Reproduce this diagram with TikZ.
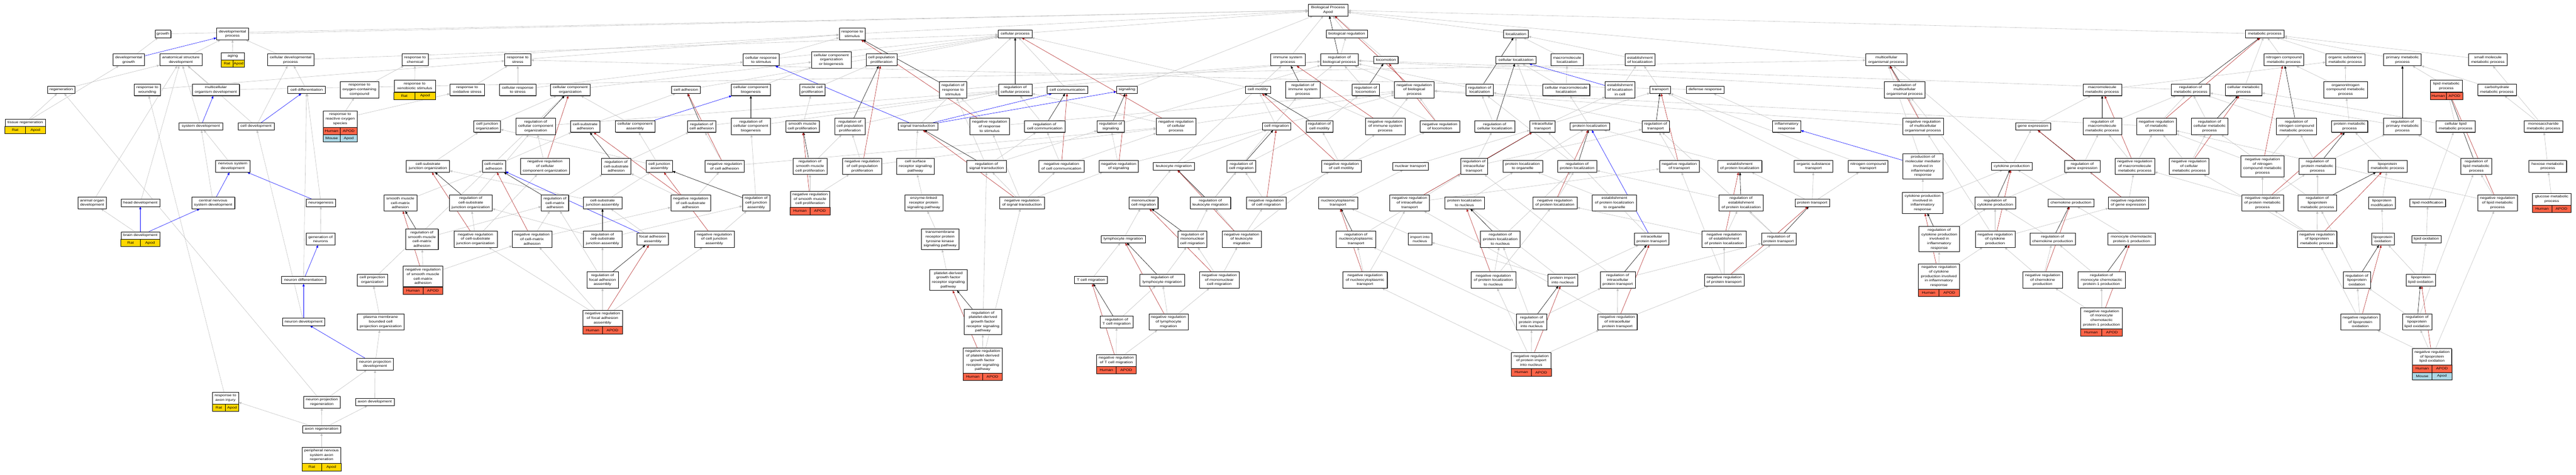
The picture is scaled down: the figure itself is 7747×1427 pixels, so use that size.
\documentclass[tikz,border=0pt]{standalone}
\usepackage{fontspec}
\setmainfont{Liberation Sans}[FakeStretch=1.25]
\usepackage{tikz}
\usetikzlibrary{calc}
\usetikzlibrary{arrows.meta}
\usetikzlibrary{shadows}
\usetikzlibrary{backgrounds}
\definecolor{ratcol}{HTML}{FFD700}
\definecolor{humancol}{HTML}{FF6347}
\definecolor{mousecol}{HTML}{ADD8E6}
\definecolor{isagray}{HTML}{C0C0C0}
\definecolor{negred}{HTML}{B22222}
\newcommand{\termfont}{\fontsize{10}{13.5}\selectfont}
\tikzset{
  term/.style={draw=black, fill=white, line width=0.8pt, inner xsep=3pt, inner ysep=0pt, align=center, font=\termfont,
    drop shadow={shadow xshift=1.3pt, shadow yshift=-1.3pt, fill=black!60, opacity=1}},
  spcell/.style={draw=black, line width=0.8pt},
  isa/.style={draw=isagray, line width=0.9pt, -{Triangle[length=8pt,width=6.5pt]}},
  partof/.style={draw=blue, line width=0.9pt, -{Triangle[length=8pt,width=6.5pt]}},
  regulates/.style={draw=black, line width=0.9pt, -{Triangle[length=8pt,width=6.5pt]}},
  negregulates/.style={draw=negred, line width=0.9pt, -{Triangle[length=8pt,width=6.5pt]}}
}
\newcommand{\goterm}[6]{\node[term, minimum width=#4, minimum height={8.5+13.5*#5}] (#1) at (#2,#3) {#6};}
\newcommand{\sprow}[5]{%
  \draw[spcell, fill=#3] ($(#1.south west)+(0,{22*#2})$) rectangle ($(#1.south)+(0,{22*#2+22})$);
  \draw[spcell, fill=#3] ($(#1.south)+(0,{22*#2})$) rectangle ($(#1.south east)+(0,{22*#2+22})$);
  \node[font=\termfont] at ($(#1.south west)!.5!(#1.south)+(0,{22*#2+11})$) {#4};
  \node[font=\termfont] at ($(#1.south)!.5!(#1.south east)+(0,{22*#2+11})$) {#5};}

\begin{document}
\begin{tikzpicture}[x=1pt, y=-1pt]
  \useasboundingbox (0,0) rectangle (7747,1427);
  %root and first rank
  \goterm{root}{3994}{30}{119}{2}{Biological Process\\Apod}
  \goterm{growth}{490}{102}{48}{1}{growth}
  \goterm{devproc}{699}{102}{95}{2}{developmental\\process}
  \goterm{respstim}{2563}{102}{78}{2}{response to\\stimulus}
  \goterm{cellproc}{3053}{102}{102}{1}{cellular process}
  \goterm{bioreg}{4050}{102}{124}{1}{biological regulation}
  \goterm{localization}{4559}{102}{74}{1}{localization}
  \goterm{metproc}{6811}{102}{116}{1}{metabolic process}
  %rank 180
  \goterm{devgrowth}{387}{180}{94}{2}{developmental\\growth}
  \goterm{anatdev}{544}{180}{128}{2}{anatomical structure\\development}
  \goterm{aging}{700}{169}{69}{1}{aging}
  \sprow{aging}{0}{ratcol}{Rat}{Apod}
  \goterm{celldevproc}{874}{180}{139}{2}{cellular developmental\\process}
  \goterm{respchem}{1248}{180}{79}{2}{response to\\chemical}
  \goterm{respstress}{1557}{180}{79}{2}{response to\\stress}
  \goterm{cellrespstim}{2289}{180}{108}{2}{cellular response\\to stimulus}
  \goterm{ccob}{2500}{180}{119}{3}{cellular component\\organization\\or biogenesis}
  \goterm{cellpopprolif}{2651}{180}{93}{2}{cell population\\proliferation}
  \goterm{immsys}{3873}{180}{103}{2}{immune system\\process}
  \goterm{regbp}{4028}{180}{114}{2}{regulation of\\biological process}
  \goterm{locomotion}{4168}{180}{73}{1}{locomotion}
  \goterm{cellloc}{4559}{180}{120}{1}{cellular localization}
  \goterm{macroloc}{4713}{180}{98}{2}{macromolecule\\localization}
  \goterm{estloc}{4932}{180}{91}{2}{establishment\\of localization}
  \goterm{mop}{5673}{180}{124}{2}{multicellular\\organismal process}
  \goterm{ncmp}{6868}{180}{120}{2}{nitrogen compound\\metabolic process}
  \goterm{osmp}{7053}{180}{117}{2}{organic substance\\metabolic process}
  \goterm{pmp}{7225}{180}{113}{2}{primary metabolic\\process}
  \goterm{smmp}{7482}{180}{116}{2}{small molecule\\metabolic process}
  %rank 270
  \goterm{regen}{184}{270}{81}{1}{regeneration}
  \goterm{respwound}{443}{270}{79}{2}{response to\\wounding}
  \goterm{mcodev}{649}{270}{142}{2}{multicellular\\organism development}
  \goterm{celldiff}{922}{270}{113}{1}{cell differentiation}
  \goterm{respoxy}{1081}{270}{115}{3}{response to\\oxygen-containing\\compound}
  \goterm{xeno}{1247}{259}{124}{2}{response to\\xenobiotic stimulus}
  \sprow{xeno}{0}{ratcol}{Rat}{Apod}
  \goterm{respox}{1405}{270}{103}{2}{response to\\oxidative stress}
  \goterm{cellrespstress}{1557}{270}{109}{2}{cellular response\\to stress}
  \goterm{ccorg}{1715}{270}{119}{2}{cellular component\\organization}
  \goterm{celladh}{2063}{270}{86}{1}{cell adhesion}
  \goterm{ccbio}{2258}{270}{118}{2}{cellular component\\biogenesis}
  \goterm{muscleprolif}{2443}{270}{77}{2}{muscle cell\\proliferation}
  \goterm{regrespstim}{2866}{270}{82}{3}{regulation of\\response to\\stimulus}
  \goterm{regcellproc}{3053}{270}{101}{2}{regulation of\\cellular process}
  \goterm{cellcomm}{3210}{270}{122}{1}{cell communication}
  \goterm{signaling}{3389}{270}{62}{1}{signaling}
  \goterm{cellmot}{3783}{270}{76}{1}{cell motility}
  \goterm{regisp}{3918}{270}{103}{3}{regulation of\\immune system\\process}
  \goterm{regloco}{4107}{270}{82}{2}{regulation of\\locomotion}
  \goterm{negregbp}{4253}{270}{119}{3}{negative regulation\\of biological\\process}
  \goterm{regloc}{4450}{270}{82}{2}{regulation of\\localization}
  \goterm{cmacroloc}{4710}{270}{142}{2}{cellular macromolecule\\localization}
  \goterm{estlocincell}{4872}{270}{90}{3}{establishment\\of localization\\in cell}
  \goterm{transport}{4993}{270}{62}{1}{transport}
  \goterm{defense}{5128}{270}{113}{1}{defense response}
  \goterm{regmop}{5728}{270}{122}{3}{regulation of\\multicellular\\organismal process}
  \goterm{mmp}{6322}{270}{116}{2}{macromolecule\\metabolic process}
  \goterm{regmp}{6588}{270}{116}{2}{regulation of\\metabolic process}
  \goterm{cellmp}{6747}{270}{110}{2}{cellular metabolic\\process}
  \goterm{onmp}{7054}{270}{131}{3}{organonitrogen\\compound metabolic\\process}
  \goterm{lipidmp}{7357}{259}{97}{2}{lipid metabolic\\process}
  \sprow{lipidmp}{0}{humancol}{Human}{APOD}
  \goterm{carbmp}{7509}{270}{116}{2}{carbohydrate\\metabolic process}
  %rank 380
  \goterm{tissueregen}{76}{369}{121}{1}{tissue regeneration}
  \sprow{tissueregen}{0}{ratcol}{Rat}{Apod}
  \goterm{sysdev}{604}{380}{131}{1}{system development}
  \goterm{celldev}{770}{380}{108}{1}{cell development}
  \goterm{ros}{1023}{358}{102}{3}{response to\\reactive oxygen\\species}
  \sprow{ros}{0}{humancol}{Human}{APOD}
  \sprow{ros}{1}{mousecol}{Mouse}{Apod}
  \goterm{celljuncorg}{1465}{380}{80}{2}{cell junction\\organization}
  \goterm{regccorg}{1611}{380}{119}{3}{regulation of\\cellular component\\organization}
  \goterm{csadh}{1760}{380}{88}{2}{cell-substrate\\adhesion}
  \goterm{ccassembly}{1910}{380}{118}{2}{cellular component\\assembly}
  \goterm{regcelladh}{2110}{380}{86}{2}{regulation of\\cell adhesion}
  \goterm{regccbio}{2258}{380}{118}{3}{regulation of\\cellular component\\biogenesis}
  \goterm{smcprolif}{2413}{380}{101}{2}{smooth muscle\\cell proliferation}
  \goterm{regcpp}{2556}{380}{92}{3}{regulation of\\cell population\\proliferation}
  \goterm{sigtrans}{2760}{380}{119}{1}{signal transduction}
  \goterm{negregrespstim}{2976}{380}{119}{3}{negative regulation\\of response\\to stimulus}
  \goterm{regcellcomm}{3142}{380}{123}{2}{regulation of\\cell communication}
  \goterm{regsig}{3340}{380}{81}{2}{regulation of\\signaling}
  \goterm{negregcp}{3537}{380}{119}{3}{negative regulation\\of cellular\\process}
  \goterm{cellmig}{3839}{380}{86}{1}{cell migration}
  \goterm{regcellmot}{3968}{380}{81}{2}{regulation of\\cell motility}
  \goterm{negregisp}{4166}{380}{119}{3}{negative regulation\\of immune system\\process}
  \goterm{negregloco}{4330}{380}{119}{2}{negative regulation\\of locomotion}
  \goterm{regcellloc}{4495}{380}{120}{2}{regulation of\\cellular localization}
  \goterm{intratrans}{4639}{380}{76}{2}{intracellular\\transport}
  \goterm{protloc}{4781}{380}{119}{1}{protein localization}
  \goterm{regtrans}{4979}{380}{82}{2}{regulation of\\transport}
  \goterm{inflam}{5373}{380}{85}{2}{inflammatory\\response}
  \goterm{negregmop}{5783}{380}{123}{3}{negative regulation\\of multicellular\\organismal process}
  \goterm{geneexp}{6114}{380}{106}{1}{gene expression}
  \goterm{regmmp}{6322}{380}{116}{3}{regulation of\\macromolecule\\metabolic process}
  \goterm{negregmp}{6485}{380}{119}{3}{negative regulation\\of metabolic\\process}
  \goterm{regcmp}{6645}{380}{111}{3}{regulation of\\cellular metabolic\\process}
  \goterm{regncmp}{6906}{380}{121}{3}{regulation of\\nitrogen compound\\metabolic process}
  \goterm{protmp}{7066}{380}{109}{2}{protein metabolic\\process}
  \goterm{regpmp}{7225}{380}{113}{3}{regulation of\\primary metabolic\\process}
  \goterm{clmp}{7385}{380}{117}{2}{cellular lipid\\metabolic process}
  \goterm{monosacc}{7649}{380}{117}{2}{monosaccharide\\metabolic process}
  %rank 500
  \goterm{nsdev}{700}{500}{103}{2}{nervous system\\development}
  \goterm{csjorg}{1287}{500}{130}{2}{cell-substrate\\junction organization}
  \goterm{cmadh}{1485}{500}{70}{2}{cell-matrix\\adhesion}
  \goterm{negregccorg}{1639}{500}{148}{3}{negative regulation\\of cellular\\component organization}
  \goterm{regcsadh}{1853}{500}{88}{3}{regulation of\\cell-substrate\\adhesion}
  \goterm{cjassembly}{1983}{500}{78}{2}{cell junction\\assembly}
  \goterm{negregcelladh}{2179}{500}{118}{2}{negative regulation\\of cell adhesion}
  \goterm{regsmcp}{2436}{500}{101}{3}{regulation of\\smooth muscle\\cell proliferation}
  \goterm{negregcpp}{2593}{500}{118}{3}{negative regulation\\of cell population\\proliferation}
  \goterm{csrsp}{2753}{500}{112}{3}{cell surface\\receptor signaling\\pathway}
  \goterm{regsigtrans}{2967}{500}{119}{2}{regulation of\\signal transduction}
  \goterm{negregcellcomm}{3192}{500}{137}{2}{negative regulation\\of cell communication}
  \goterm{negregsig}{3364}{500}{119}{2}{negative regulation\\of signaling}
  \goterm{leukmig}{3530}{500}{123}{1}{leukocyte migration}
  \goterm{regcellmig}{3733}{500}{87}{2}{regulation of\\cell migration}
  \goterm{negregcellmot}{4034}{500}{119}{2}{negative regulation\\of cell motility}
  \goterm{nuctrans}{4242}{500}{107}{1}{nuclear transport}
  \goterm{regintratrans}{4433}{500}{81}{3}{regulation of\\intracellular\\transport}
  \goterm{protlocorg}{4579}{500}{119}{2}{protein localization\\to organelle}
  \goterm{regprotloc}{4743}{500}{118}{2}{regulation of\\protein localization}
  \goterm{negregtrans}{5050}{500}{119}{2}{negative regulation\\of transport}
  \goterm{estprotloc}{5232}{500}{133}{2}{establishment\\of protein localization}
  \goterm{orgsubtrans}{5454}{500}{116}{2}{organic substance\\transport}
  \goterm{nitrotrans}{5618}{500}{119}{2}{nitrogen compound\\transport}
  \goterm{prodmed}{5783}{500}{120}{5}{production of\\molecular mediator\\involved in\\inflammatory\\response}
  \goterm{cytprod}{6050}{500}{123}{1}{cytokine production}
  \goterm{reggeneexp}{6262}{500}{106}{2}{regulation of\\gene expression}
  \goterm{negregmmp}{6420}{500}{119}{3}{negative regulation\\of macromolecule\\metabolic process}
  \goterm{negregcmp}{6583}{500}{119}{3}{negative regulation\\of cellular\\metabolic process}
  \goterm{negregncmp}{6804}{500}{130}{4}{negative regulation\\of nitrogen\\compound metabolic\\process}
  \goterm{regprotmp}{6969}{500}{110}{3}{regulation of\\protein metabolic\\process}
  \goterm{lipoprotmp}{7180}{500}{117}{2}{lipoprotein\\metabolic process}
  \goterm{reglipidmp}{7447}{500}{93}{3}{regulation of\\lipid metabolic\\process}
  \goterm{hexose}{7662}{500}{113}{2}{hexose metabolic\\process}
  %rank 610
  \goterm{animorgdev}{277}{610}{85}{2}{animal organ\\development}
  \goterm{headdev}{422}{610}{116}{1}{head development}
  \goterm{cnsdev}{641}{610}{130}{2}{central nervous\\system development}
  \goterm{neurogen}{965}{610}{87}{1}{neurogenesis}
  \goterm{smcmadh}{1204}{610}{100}{3}{smooth muscle\\cell-matrix\\adhesion}
  \goterm{regcsjorg}{1416}{610}{129}{3}{regulation of\\cell-substrate\\junction organization}
  \goterm{regcmadh}{1669}{610}{82}{3}{regulation of\\cell-matrix\\adhesion}
  \goterm{csjassembly}{1812}{610}{116}{2}{cell-substrate\\junction assembly}
  \goterm{negregcsadh}{2077}{610}{119}{3}{negative regulation\\of cell-substrate\\adhesion}
  \goterm{regcjassembly}{2274}{610}{82}{3}{regulation of\\cell junction\\assembly}
  \goterm{negregsmcp}{2436}{599}{119}{3}{negative regulation\\of smooth muscle\\cell proliferation}
  \sprow{negregsmcp}{0}{humancol}{Human}{APOD}
  \goterm{elrpsp}{2778}{610}{114}{3}{enzyme-linked\\receptor protein\\signaling pathway}
  \goterm{negregsigtrans}{3073}{610}{135}{2}{negative regulation\\of signal transduction}
  \goterm{monomig}{3439}{610}{87}{2}{mononuclear\\cell migration}
  \goterm{regleukmig}{3640}{610}{122}{2}{regulation of\\leukocyte migration}
  \goterm{negregcellmig}{3808}{610}{119}{2}{negative regulation\\of cell migration}
  \goterm{nucleocyto}{4024}{610}{119}{2}{nucleocytoplasmic\\transport}
  \goterm{negregintratrans}{4239}{610}{119}{3}{negative regulation\\of intracellular\\transport}
  \goterm{protlocnuc}{4404}{610}{119}{2}{protein localization\\to nucleus}
  \goterm{negregprotloc}{4676}{610}{133}{2}{negative regulation\\of protein localization}
  \goterm{estprotlocorg}{4855}{610}{133}{3}{establishment\\of protein localization\\to organelle}
  \goterm{regestprotloc}{5236}{610}{134}{3}{regulation of\\establishment\\of protein localization}
  \goterm{prottrans}{5450}{610}{104}{1}{protein transport}
  \goterm{cytinflam}{5782}{610}{123}{4}{cytokine production\\involved in\\inflammatory\\response}
  \goterm{regcytprod}{6000}{610}{122}{2}{regulation of\\cytokine production}
  \goterm{chemprod}{6228}{610}{137}{1}{chemokine production}
  \goterm{negreggeneexp}{6401}{610}{120}{2}{negative regulation\\of gene expression}
  \goterm{negregprotmp}{6804}{610}{125}{3}{negative regulation\\of protein metabolic\\process}
  \goterm{reglipoprotmp}{6969}{610}{116}{3}{regulation of\\lipoprotein\\metabolic process}
  \goterm{lipoprotmod}{7163}{610}{80}{2}{lipoprotein\\modification}
  \goterm{lipidmod}{7301}{610}{107}{1}{lipid modification}
  \goterm{negreglipidmp}{7511}{610}{119}{3}{negative regulation\\of lipid metabolic\\process}
  \goterm{glucose}{7674}{599}{116}{2}{glucose metabolic\\process}
  \sprow{glucose}{0}{humancol}{Human}{APOD}
  %rank 719
  \goterm{braindev}{422}{708}{116}{1}{brain development}
  \sprow{braindev}{0}{ratcol}{Rat}{Apod}
  \goterm{genneur}{964}{719}{86}{2}{generation of\\neurons}
  \goterm{regsmcmadh}{1269}{719}{98}{4}{regulation of\\smooth muscle\\cell-matrix\\adhesion}
  \goterm{negregcsjorg}{1430}{719}{130}{3}{negative regulation\\of cell-substrate\\junction organization}
  \goterm{negregcmadh}{1600}{719}{119}{3}{negative regulation\\of cell-matrix\\adhesion}
  \goterm{regcsjassembly}{1812}{719}{116}{3}{regulation of\\cell-substrate\\junction assembly}
  \goterm{faassembly}{1963}{719}{95}{2}{focal adhesion\\assembly}
  \goterm{negregcjassembly}{2148}{719}{119}{3}{negative regulation\\of cell junction\\assembly}
  \goterm{tmrptk}{2827}{719}{114}{4}{transmembrane\\receptor protein\\tyrosine kinase\\signaling pathway}
  \goterm{lymphmig}{3378}{719}{134}{1}{lymphocyte migration}
  \goterm{regmonomig}{3586}{719}{87}{3}{regulation of\\mononuclear\\cell migration}
  \goterm{negregleukmig}{3734}{719}{118}{3}{negative regulation\\of leukocyte\\migration}
  \goterm{regnucleocyto}{4078}{719}{119}{3}{regulation of\\nucleocytoplasmic\\transport}
  \goterm{importnuc}{4270}{719}{71}{2}{import into\\nucleus}
  \goterm{regprotlocnuc}{4512}{719}{119}{3}{regulation of\\protein localization\\to nucleus}
  \goterm{intraprottrans}{4967}{719}{104}{2}{intracellular\\protein transport}
  \goterm{negregestprotloc}{5185}{719}{133}{3}{negative regulation\\of establishment\\of protein localization}
  \goterm{regprottrans}{5349}{719}{104}{2}{regulation of\\protein transport}
  \goterm{regcytinflam}{5832}{719}{122}{5}{regulation of\\cytokine production\\involved in\\inflammatory\\response}
  \goterm{negregcytprod}{6000}{719}{119}{3}{negative regulation\\of cytokine\\production}
  \goterm{regchemprod}{6173}{719}{137}{2}{regulation of\\chemokine production}
  \goterm{mcp}{6410}{719}{142}{2}{monocyte chemotactic\\protein-1 production}
  \goterm{negreglipoprotmp}{6968}{719}{119}{3}{negative regulation\\of lipoprotein\\metabolic process}
  \goterm{lipoprotox}{7166}{719}{69}{2}{lipoprotein\\oxidation}
  \goterm{lipidox}{7297}{719}{89}{1}{lipid oxidation}
  %rank 842
  \goterm{neurdiff}{913}{842}{132}{1}{neuron differentiation}
  \goterm{cellprojorg}{1120}{842}{91}{2}{cell projection\\organization}
  \goterm{negregsmcmadh}{1272}{831}{119}{4}{negative regulation\\of smooth muscle\\cell-matrix\\adhesion}
  \sprow{negregsmcmadh}{0}{humancol}{Human}{APOD}
  \goterm{regfaassembly}{1812}{842}{95}{3}{regulation of\\focal adhesion\\assembly}
  \goterm{pdgf}{2852}{842}{112}{4}{platelet-derived\\growth factor\\receptor signaling\\pathway}
  \goterm{tcellmig}{3281}{842}{99}{1}{T cell migration}
  \goterm{reglymphmig}{3495}{842}{135}{2}{regulation of\\lymphocyte migration}
  \goterm{negregmonomig}{3667}{842}{119}{3}{negative regulation\\of mononuclear\\cell migration}
  \goterm{negregnucleocyto}{4105}{842}{134}{3}{negative regulation\\of nucleocytoplasmic\\transport}
  \goterm{negregprotlocnuc}{4491}{842}{134}{3}{negative regulation\\of protein localization\\to nucleus}
  \goterm{protimport}{4700}{842}{89}{2}{protein import\\into nucleus}
  \goterm{regintraprottrans}{4865}{842}{105}{3}{regulation of\\intracellular\\protein transport}
  \goterm{negregprottrans}{5185}{842}{119}{2}{negative regulation\\of protein transport}
  \goterm{negregcytinflam}{5831}{831}{124}{5}{negative regulation\\of cytokine\\production involved\\in inflammatory\\response}
  \sprow{negregcytinflam}{0}{humancol}{Human}{APOD}
  \goterm{negregchemprod}{6143}{842}{119}{3}{negative regulation\\of chemokine\\production}
  \goterm{regmcp}{6320}{842}{143}{3}{regulation of\\monocyte chemotactic\\protein-1 production}
  \goterm{reglipoprotox}{7088}{842}{81}{3}{regulation of\\lipoprotein\\oxidation}
  \goterm{lipoprotlipox}{7280}{842}{89}{2}{lipoprotein\\lipid oxidation}
  %rank 968
  \goterm{neurdev}{913}{968}{127}{1}{neuron development}
  \goterm{pmbcpo}{1145}{968}{141}{3}{plasma membrane\\bounded cell\\projection organization}
  \goterm{negregfaassembly}{1812}{957}{119}{3}{negative regulation\\of focal adhesion\\assembly}
  \sprow{negregfaassembly}{0}{humancol}{Human}{APOD}
  \goterm{regpdgf}{2956}{968}{112}{5}{regulation of\\platelet-derived\\growth factor\\receptor signaling\\pathway}
  \goterm{regtcellmig}{3358}{968}{99}{2}{regulation of\\T cell migration}
  \goterm{negreglymphmig}{3514}{968}{118}{3}{negative regulation\\of lymphocyte\\migration}
  \goterm{regprotimport}{4606}{968}{90}{3}{regulation of\\protein import\\into nucleus}
  \goterm{negregintraprottrans}{4864}{968}{119}{3}{negative regulation\\of intracellular\\protein transport}
  \goterm{negregmcp}{6320}{957}{125}{4}{negative regulation\\of monocyte\\chemotactic\\protein-1 production}
  \sprow{negregmcp}{0}{humancol}{Human}{APOD}
  \goterm{negreglipoprotox}{7098}{968}{119}{3}{negative regulation\\of lipoprotein\\oxidation}
  \goterm{reglipoprotlipox}{7269}{968}{89}{3}{regulation of\\lipoprotein\\lipid oxidation}
  %rank 1095
  \goterm{neurprojdev}{1128}{1095}{110}{2}{neuron projection\\development}
  \goterm{negregpdgf}{2955}{1084}{118}{5}{negative regulation\\of platelet-derived\\growth factor\\receptor signaling\\pathway}
  \sprow{negregpdgf}{0}{humancol}{Human}{APOD}
  \goterm{negregtcellmig}{3357}{1084}{119}{2}{negative regulation\\of T cell migration}
  \sprow{negregtcellmig}{0}{humancol}{Human}{APOD}
  \goterm{negregprotimport}{4605}{1084}{119}{3}{negative regulation\\of protein import\\into nucleus}
  \sprow{negregprotimport}{0}{humancol}{Human}{APOD}
  \goterm{negreglipoprotlipox}{7314}{1073}{118}{3}{negative regulation\\of lipoprotein\\lipid oxidation}
  \sprow{negreglipoprotlipox}{0}{humancol}{Human}{APOD}
  \sprow{negreglipoprotlipox}{1}{mousecol}{Mouse}{Apod}
  %lowest ranks
  \goterm{respaxon}{678}{1197}{79}{2}{response to\\axon injury}
  \sprow{respaxon}{0}{ratcol}{Rat}{Apod}
  \goterm{neurprojregen}{968}{1209}{110}{2}{neuron projection\\regeneration}
  \goterm{axondev}{1127}{1209}{116}{1}{axon development}
  \goterm{axonregen}{967}{1291}{114}{1}{axon regeneration}
  \goterm{pnsregen}{967}{1369}{116}{3}{peripheral nervous\\system axon\\regeneration}
  \sprow{pnsregen}{0}{ratcol}{Rat}{Apod}

  %edges
  \begin{scope}[on background layer]
  \fill[white] (0,0) rectangle (7747,1427);
  \foreach \a/\b in {growth/root, devproc/root, cellproc/root, respstim/root, bioreg/root, immsys/root,
    locomotion/root, localization/root, mop/root, metproc/root, signaling/root,
    devgrowth/growth, anatdev/devproc, aging/devproc, celldevproc/devproc, celldevproc/cellproc,
    tissueregen/devgrowth, tissueregen/regen, regen/anatdev, respwound/respstress,
    sysdev/anatdev, mcodev/anatdev, mcodev/mop, animorgdev/anatdev, headdev/anatdev,
    braindev/animorgdev, cnsdev/sysdev, nsdev/sysdev, respaxon/respwound, neurprojregen/regen,
    celldev/celldevproc, celldev/anatdev, celldiff/celldevproc, neurogen/celldiff, genneur/neurogen,
    neurdiff/celldiff, neurdev/celldev, neurprojdev/pmbcpo, pmbcpo/cellprojorg, cellprojorg/ccorg,
    neurprojregen/neurprojdev, axondev/neurprojdev, axonregen/neurprojregen, axonregen/axondev,
    axonregen/respaxon, pnsregen/axonregen,
    ros/respoxy, ros/respox, respoxy/respchem, xeno/respchem, respchem/respstim, respox/respstress,
    cellrespstress/respstress, cellrespstress/cellrespstim, respstress/respstim,
    smcmadh/cmadh, negregsmcmadh/regsmcmadh, regsmcmadh/regcmadh, negregsmcmadh/negregcmadh,
    ccorg/ccob, negregccorg/regccorg, celljuncorg/ccorg, csjorg/celljuncorg, negregcsjorg/regcsjorg,
    regcsjorg/regccorg, negregcsjorg/negregccorg, regccorg/regcellproc,
    cmadh/csadh, negregcmadh/regcmadh, regcmadh/regcsadh, negregcmadh/negregcsadh,
    csadh/celladh, negregcsadh/regcsadh, regcsadh/regcelladh, negregcsadh/negregcelladh,
    ccassembly/ccorg, csjassembly/csjorg, csjassembly/cjassembly, regcsjassembly/regcsjorg,
    regcsjassembly/regcjassembly, faassembly/csjassembly, regfaassembly/regcsjassembly,
    regfaassembly/regcmadh, negregfaassembly/regfaassembly, negregfaassembly/negregcmadh,
    negregfaassembly/negregcsjorg, negregfaassembly/negregcjassembly,
    cellrespstim/respstim, cellrespstim/cellproc, ccob/cellproc, ccbio/ccob, celladh/cellproc,
    regcelladh/regcellproc, negregcelladh/regcelladh, negregcelladh/negregcp,
    cjassembly/ccassembly, cjassembly/celljuncorg, negregcjassembly/regcjassembly,
    regcjassembly/regccbio, regccbio/regcellproc,
    smcprolif/muscleprolif, negregsmcp/regsmcp, negregsmcp/negregcpp, regsmcp/regcpp,
    muscleprolif/cellpopprolif, negregcpp/regcpp, cellpopprolif/cellproc, regcpp/regcellproc,
    negregcpp/negregcp}
    \draw[isa] (\a) -- (\b);
  \foreach \a/\b in {negregrespstim/regrespstim, regrespstim/regbp, negregrespstim/negregbp,
    regcellproc/regbp, sigtrans/cellproc, cellcomm/cellproc,
    negregsigtrans/regsigtrans, regsigtrans/regrespstim, regsigtrans/regcellcomm, regsigtrans/regsig,
    negregsigtrans/negregrespstim, negregsigtrans/negregcellcomm, negregsigtrans/negregsig,
    regcellcomm/regcellproc, negregcellcomm/regcellcomm, negregcellcomm/negregcp,
    csrsp/sigtrans, elrpsp/csrsp, tmrptk/elrpsp, pdgf/tmrptk, negregpdgf/regpdgf,
    regpdgf/regsigtrans, negregpdgf/negregsigtrans,
    negregsig/regsig, regsig/regbp, negregsig/negregbp, negregcp/regcellproc, negregcp/negregbp,
    leukmig/cellmig, leukmig/immsys, cellmig/cellmot, negregcellmig/regcellmig,
    regcellmig/regcellmot, negregcellmig/negregcellmot, cellmot/cellproc,
    regleukmig/regcellmig, regleukmig/regisp, negregleukmig/regleukmig,
    negregleukmig/negregcellmig, negregleukmig/negregisp,
    monomig/leukmig, regmonomig/regleukmig, negregmonomig/regmonomig, negregmonomig/negregleukmig,
    lymphmig/monomig, reglymphmig/regmonomig, negreglymphmig/reglymphmig,
    negreglymphmig/negregmonomig, tcellmig/lymphmig, regtcellmig/reglymphmig,
    negregtcellmig/regtcellmig, negregtcellmig/negreglymphmig,
    regbp/bioreg, negregbp/regbp, regisp/regbp, negregisp/regisp, negregisp/negregbp,
    regloco/regbp, negregloco/regloco, negregloco/negregbp, regcellmot/regloco,
    negregcellmot/regcellmot, negregcellmot/negregloco,
    regloc/regbp, regcellloc/regloc, regintratrans/regcellloc, regintratrans/regtrans,
    negregintratrans/regintratrans, negregintratrans/negregtrans,
    nuctrans/intratrans, nucleocyto/nuctrans, regnucleocyto/regintratrans,
    negregnucleocyto/regnucleocyto, negregnucleocyto/negregintratrans, importnuc/nucleocyto,
    protlocnuc/protlocorg, negregprotlocnuc/regprotlocnuc, regprotlocnuc/regprotloc,
    negregprotlocnuc/negregprotloc}
    \draw[isa] (\a) -- (\b);
  \foreach \a/\b in {cellloc/localization, macroloc/localization, estloc/localization,
    cmacroloc/macroloc, cmacroloc/cellloc, estlocincell/estloc, transport/estloc,
    intratrans/cellloc, intratrans/estlocincell, intratrans/transport, protloc/cmacroloc,
    regtrans/regloc, negregtrans/regtrans, protlocorg/protloc, regprotloc/regloc,
    negregprotloc/regprotloc, intraprottrans/intratrans, estprotlocorg/protlocorg,
    protimport/intraprottrans, protimport/protlocnuc, protimport/importnuc,
    negregprotimport/regprotimport, regprotimport/regintraprottrans, regprotimport/regnucleocyto,
    regprotimport/regprotlocnuc, negregprotimport/negregintraprottrans,
    negregprotimport/negregnucleocyto, negregprotimport/negregprotlocnuc,
    regintraprottrans/regintratrans, regintraprottrans/regprottrans,
    negregintraprottrans/regintraprottrans, negregintraprottrans/negregintratrans,
    negregintraprottrans/negregprottrans, defense/respstress, inflam/defense,
    estprotloc/protloc, negregestprotloc/regestprotloc, regestprotloc/regprotloc,
    negregestprotloc/negregprotloc, prottrans/estprotloc, prottrans/orgsubtrans,
    prottrans/nitrotrans, orgsubtrans/transport, nitrotrans/transport,
    regprottrans/regestprotloc, regprottrans/regtrans, negregprottrans/regprottrans,
    negregprottrans/negregestprotloc, negregprottrans/negregtrans,
    negregmop/regmop, regmop/regbp, negregmop/negregbp, prodmed/mop, cytinflam/prodmed,
    cytinflam/cytprod, regcytinflam/regcytprod, negregcytinflam/regcytinflam,
    negregcytinflam/negregcytprod, cytprod/mop, cytprod/geneexp, regcytprod/regmop,
    regcytprod/reggeneexp, negregcytprod/regcytprod, negregcytprod/negregmop,
    negregcytprod/negreggeneexp, chemprod/cytprod, regchemprod/regcytprod,
    negregchemprod/regchemprod, negregchemprod/negregcytprod, mcp/chemprod, regmcp/regchemprod,
    negregmcp/regmcp, negregmcp/negregchemprod}
    \draw[isa] (\a) -- (\b);
  \foreach \a/\b in {geneexp/mmp, reggeneexp/regmmp, negreggeneexp/reggeneexp,
    negreggeneexp/negregmmp, negregmmp/regmmp, mmp/osmp, regmmp/regmp, negregmmp/negregmp,
    regmp/regbp, negregmp/regmp, negregmp/negregbp, cellmp/metproc, ncmp/metproc, osmp/metproc,
    pmp/metproc, smmp/metproc, regcmp/regmp, negregcmp/regcmp, negregcmp/negregmp,
    regncmp/regmp, negregncmp/regncmp, negregncmp/negregmp, onmp/ncmp, onmp/osmp, protmp/onmp,
    regprotmp/regncmp, regprotmp/regpmp, negregprotmp/regprotmp, negregprotmp/negregncmp,
    negregprotmp/negregmmp, reglipoprotmp/regprotmp, reglipoprotmp/regcmp,
    negreglipoprotmp/reglipoprotmp, negreglipoprotmp/negregprotmp, negreglipoprotmp/negregcmp,
    reglipoprotox/reglipoprotmp, negreglipoprotox/reglipoprotox,
    negreglipoprotox/negreglipoprotmp, clmp/cellmp, clmp/lipidmp, lipidmp/pmp, carbmp/pmp,
    regpmp/regmp, reglipidmp/regpmp, negreglipidmp/reglipidmp, negreglipidmp/negregmp,
    lipoprotmp/protmp, lipoprotmod/lipoprotmp, lipoprotox/lipoprotmod, lipidmod/clmp,
    lipidox/lipidmod, lipoprotlipox/lipoprotox, lipoprotlipox/lipidox,
    reglipoprotlipox/reglipoprotox, reglipoprotlipox/reglipidmp,
    negreglipoprotlipox/reglipoprotlipox, negreglipoprotlipox/negreglipoprotox,
    negreglipoprotlipox/negreglipidmp, monosacc/carbmp, monosacc/smmp, hexose/monosacc,
    glucose/hexose}
    \draw[isa] (\a) -- (\b);
  %part of
  \foreach \a/\b in {devgrowth/devproc, sysdev/mcodev, braindev/headdev, braindev/cnsdev,
    cnsdev/nsdev, celldev/celldiff, neurogen/nsdev, neurdiff/genneur, neurdev/neurdiff,
    neurprojdev/neurdev, faassembly/cmadh, ccassembly/ccbio, sigtrans/cellrespstim,
    sigtrans/cellcomm, sigtrans/signaling, estlocincell/cellloc, intraprottrans/protloc,
    prodmed/inflam}
    \draw[partof] (\a) -- (\b);
  %regulates
  \foreach \a/\b in {regccorg/ccorg, regcsjorg/csjorg, regsmcmadh/smcmadh, regcmadh/cmadh,
    regcsadh/csadh, regcsjassembly/csjassembly, regfaassembly/faassembly, regcelladh/celladh,
    regcjassembly/cjassembly, regccbio/ccbio, regsmcp/smcprolif, regcpp/cellpopprolif,
    regrespstim/respstim, regcellproc/cellproc, regsigtrans/sigtrans, regcellcomm/cellcomm,
    regpdgf/pdgf, regsig/signaling, regcellmig/cellmig, regleukmig/leukmig, regmonomig/monomig,
    reglymphmig/lymphmig, regtcellmig/tcellmig, regbp/root, regisp/immsys, regloco/locomotion,
    regcellmot/cellmot, regloc/localization, regcellloc/cellloc, regintratrans/intratrans,
    regnucleocyto/nucleocyto, regprotlocnuc/protlocnuc, regtrans/transport, regprotloc/protloc,
    regprotimport/protimport, regintraprottrans/intraprottrans, regestprotloc/estprotloc,
    regprottrans/prottrans, regmop/mop, regcytinflam/cytinflam, regcytprod/cytprod,
    regchemprod/chemprod, regmcp/mcp, reggeneexp/geneexp, regmmp/mmp, regmp/metproc,
    regcmp/cellmp, regncmp/ncmp, regprotmp/protmp, reglipoprotmp/lipoprotmp,
    reglipoprotox/lipoprotox, regpmp/pmp, reglipidmp/lipidmp, reglipoprotlipox/lipoprotlipox}
    \draw[regulates] (\a) -- (\b);
  %negatively regulates
  \foreach \a/\b in {negregsmcmadh/smcmadh, negregccorg/ccorg, negregcsjorg/csjorg,
    negregcmadh/cmadh, negregcsadh/csadh, negregfaassembly/faassembly, negregcelladh/celladh,
    negregcjassembly/cjassembly, negregsmcp/smcprolif, negregcpp/cellpopprolif,
    negregrespstim/respstim, negregsigtrans/sigtrans, negregcellcomm/cellcomm, negregpdgf/pdgf,
    negregsig/signaling, negregcp/cellproc, negregcellmig/cellmig, negregleukmig/leukmig,
    negregmonomig/monomig, negreglymphmig/lymphmig, negregtcellmig/tcellmig, negregbp/root,
    negregisp/immsys, negregloco/locomotion, negregcellmot/cellmot,
    negregintratrans/intratrans, negregnucleocyto/nucleocyto, negregprotlocnuc/protlocnuc,
    negregtrans/transport, negregprotloc/protloc, negregprotimport/protimport,
    negregintraprottrans/intraprottrans, negregestprotloc/estprotloc,
    negregprottrans/prottrans, negregmop/mop, negregcytinflam/cytinflam,
    negregcytprod/cytprod, negregchemprod/chemprod, negregmcp/mcp, negreggeneexp/geneexp,
    negregmmp/mmp, negregmp/metproc, negregcmp/cellmp, negregncmp/ncmp,
    negregprotmp/protmp, negreglipoprotmp/lipoprotmp, negreglipoprotox/lipoprotox,
    negreglipidmp/lipidmp, negreglipoprotlipox/lipoprotlipox}
    \draw[negregulates] (\a) -- (\b);
  \end{scope}
\end{tikzpicture}
\end{document}
